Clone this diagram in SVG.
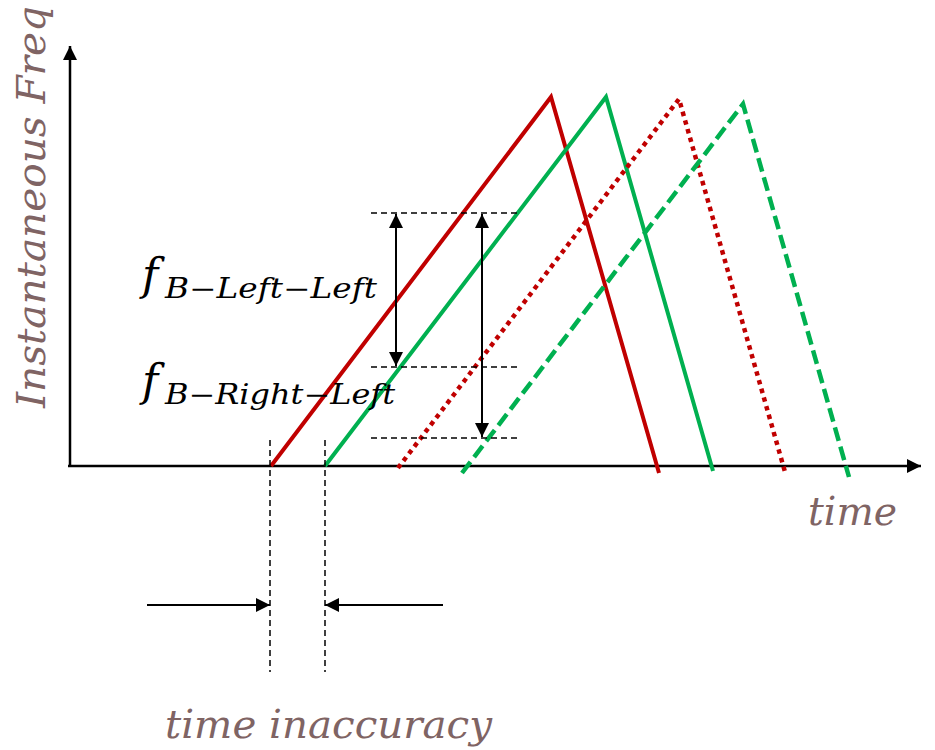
<svg xmlns="http://www.w3.org/2000/svg" width="935" height="750" viewBox="0 0 935 750">
<defs>
<marker id="ah" viewBox="0 0 10 10" refX="10" refY="5" markerWidth="14" markerHeight="14" markerUnits="userSpaceOnUse" orient="auto-start-reverse">
<path d="M0,0 L10,5 L0,10 z" fill="#000"/>
</marker>
<style>
.axis{stroke:#000;stroke-width:2.5;fill:none}
.dim{stroke:#000;stroke-width:2;fill:none}
.guide{stroke:#000;stroke-width:1.5;stroke-dasharray:6 4;fill:none}
.red{stroke:#C00000;stroke-width:4;fill:none}
.green{stroke:#00B050;stroke-width:4;fill:none}
.dot{stroke-width:4.5;stroke-dasharray:4.5 4.5}
.dash{stroke-width:4.5;stroke-dasharray:14 6}
.lbl{font-family:"DejaVu Serif","Liberation Serif",serif;font-style:italic;fill:#7F6464}
.math{font-family:"DejaVu Serif","Liberation Serif",serif;font-style:italic;fill:#000}
</style>
</defs>
<g id="axes">
<line class="axis" x1="70" y1="466" x2="70" y2="46" marker-end="url(#ah)"/>
<line class="axis" x1="68" y1="466" x2="921" y2="466" marker-end="url(#ah)"/>
</g>
<g id="labels">
<text class="lbl" font-size="40" transform="translate(45,408) rotate(-90)" textLength="402" lengthAdjust="spacingAndGlyphs">Instantaneous Freq</text>
<text class="lbl" font-size="40" x="808" y="525" textLength="89" lengthAdjust="spacingAndGlyphs">time</text>
<text class="lbl" font-size="40" x="165" y="738" textLength="327" lengthAdjust="spacingAndGlyphs">time inaccuracy</text>
</g>
<g id="chirps">
<polyline class="red" points="271,466 551,97 659,473"/>
<polyline class="green" points="325,466 606,97 713,471"/>
<polyline class="red dot" points="398,468 679,99 785,472"/>
<polyline class="green dash" points="462,473 743,104 849,477"/>
</g>
<g id="connectors">
<line class="guide" x1="371" y1="213" x2="517" y2="213"/>
<line class="guide" x1="371" y1="367" x2="517" y2="367"/>
<line class="guide" x1="371" y1="438" x2="517" y2="438"/>
<line class="dim" x1="396" y1="214" x2="396" y2="366" marker-start="url(#ah)" marker-end="url(#ah)"/>
<line class="dim" x1="482" y1="214" x2="482" y2="437" marker-start="url(#ah)" marker-end="url(#ah)"/>
<line class="guide" x1="270" y1="440" x2="270" y2="672"/>
<line class="guide" x1="325" y1="440" x2="325" y2="672"/>
<line class="dim" x1="147" y1="605" x2="270" y2="605" marker-end="url(#ah)"/>
<line class="dim" x1="443" y1="605" x2="325" y2="605" marker-end="url(#ah)"/>
</g>
<g id="math-labels">
<text class="math" font-size="44" x="142" y="290">f</text>
<text class="math" font-size="27" x="165" y="298" textLength="212" lengthAdjust="spacingAndGlyphs">B−Left−Left</text>
<text class="math" font-size="44" x="142" y="396">f</text>
<text class="math" font-size="27" x="165" y="404" textLength="230" lengthAdjust="spacingAndGlyphs">B−Right−Left</text>
</g>
</svg>
